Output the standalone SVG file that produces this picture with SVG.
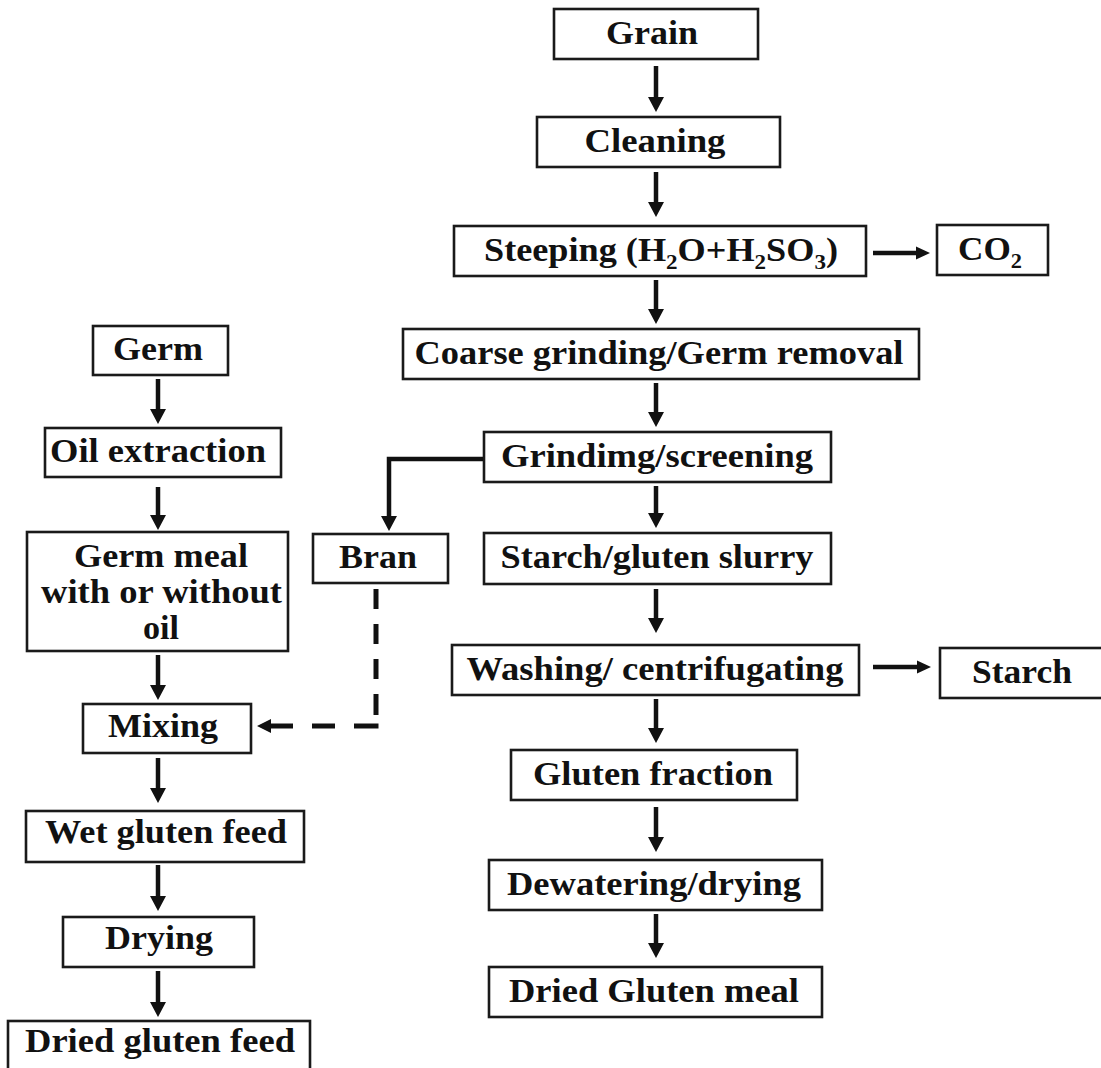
<svg xmlns="http://www.w3.org/2000/svg" width="1101" height="1068" viewBox="0 0 1101 1068">
<style>
.box{fill:#fff;stroke:#1a1a1a;stroke-width:2.6}
.t{font-family:"Liberation Serif","Times New Roman",serif;font-weight:bold;font-size:33px;fill:#111;text-anchor:middle}
.sub{font-size:21px}
.ln{stroke:#111;stroke-width:4.5;fill:none}
.dl{stroke:#111;stroke-width:5;fill:none}
.hd{fill:#111}
</style>
<defs>
<polygon id="hdown" points="-8,-15 8,-15 0,0"/>
<polygon id="hright" points="-14,-6.5 -14,6.5 0,0"/>
<polygon id="hleft" points="14,-7 14,7 0,0"/>
</defs>
<rect width="1101" height="1068" fill="#fff"/>

<g id="connectors">
  <line class="ln" x1="656" y1="66" x2="656" y2="99"/><use href="#hdown" class="hd" x="656" y="112"/>
  <line class="ln" x1="656" y1="172" x2="656" y2="204"/><use href="#hdown" class="hd" x="656" y="217"/>
  <line class="ln" x1="656" y1="280" x2="656" y2="311"/><use href="#hdown" class="hd" x="656" y="324"/>
  <line class="ln" x1="656" y1="383" x2="656" y2="414"/><use href="#hdown" class="hd" x="656" y="427"/>
  <line class="ln" x1="656" y1="486" x2="656" y2="515"/><use href="#hdown" class="hd" x="656" y="528"/>
  <line class="ln" x1="656" y1="589" x2="656" y2="620"/><use href="#hdown" class="hd" x="656" y="633"/>
  <line class="ln" x1="656" y1="699" x2="656" y2="730"/><use href="#hdown" class="hd" x="656" y="743"/>
  <line class="ln" x1="656" y1="807" x2="656" y2="839"/><use href="#hdown" class="hd" x="656" y="852"/>
  <line class="ln" x1="656" y1="914" x2="656" y2="945"/><use href="#hdown" class="hd" x="656" y="958"/>
  <line class="ln" x1="873" y1="253" x2="918" y2="253"/><use href="#hright" class="hd" x="930" y="253"/>
  <line class="ln" x1="873" y1="667" x2="919" y2="667"/><use href="#hright" class="hd" x="931" y="667"/>
  <polyline class="ln" points="485,459 389,459 389,518"/><use href="#hdown" class="hd" x="389" y="531"/>
  <line class="ln" x1="158" y1="379" x2="158" y2="411"/><use href="#hdown" class="hd" x="158" y="424"/>
  <line class="ln" x1="158" y1="487" x2="158" y2="517"/><use href="#hdown" class="hd" x="158" y="530"/>
  <line class="ln" x1="158" y1="655" x2="158" y2="687"/><use href="#hdown" class="hd" x="158" y="700"/>
  <line class="ln" x1="158" y1="758" x2="158" y2="790"/><use href="#hdown" class="hd" x="158" y="803"/>
  <line class="ln" x1="158" y1="865" x2="158" y2="898"/><use href="#hdown" class="hd" x="158" y="911"/>
  <line class="ln" x1="158" y1="971" x2="158" y2="1004"/><use href="#hdown" class="hd" x="158" y="1017"/>
  <g class="dl">
    <line x1="376" y1="589" x2="376" y2="609"/>
    <line x1="376" y1="624" x2="376" y2="644"/>
    <line x1="376" y1="659" x2="376" y2="679"/>
    <line x1="376" y1="694" x2="376" y2="715"/>
    <line x1="354" y1="726" x2="378.5" y2="726"/>
    <line x1="312" y1="726" x2="335" y2="726"/>
    <line x1="268" y1="726" x2="293" y2="726"/>
  </g>
  <use href="#hleft" class="hd" x="257" y="726"/>
</g>

<g id="n-grain"><rect class="box" x="554" y="9" width="204" height="50"/><text class="t" x="652" y="44" textLength="92" lengthAdjust="spacingAndGlyphs">Grain</text></g>
<g id="n-cleaning"><rect class="box" x="537" y="117" width="243" height="50"/><text class="t" x="655" y="152" textLength="141" lengthAdjust="spacingAndGlyphs">Cleaning</text></g>
<g id="n-steeping"><rect class="box" x="454" y="226" width="412" height="50"/><text class="t" x="661" y="261" textLength="354" lengthAdjust="spacingAndGlyphs">Steeping (H<tspan class="sub" dy="8">2</tspan><tspan dy="-8">O+H</tspan><tspan class="sub" dy="8">2</tspan><tspan dy="-8">SO</tspan><tspan class="sub" dy="8">3</tspan><tspan dy="-8">)</tspan></text></g>
<g id="n-co2"><rect class="box" x="937" y="225" width="111" height="50"/><text class="t" x="990" y="260" textLength="64" lengthAdjust="spacingAndGlyphs">CO<tspan class="sub" dy="8">2</tspan></text></g>
<g id="n-coarse"><rect class="box" x="403" y="329" width="516" height="50"/><text class="t" x="659" y="364" textLength="489" lengthAdjust="spacingAndGlyphs">Coarse grinding/Germ removal</text></g>
<g id="n-grinding"><rect class="box" x="484" y="432" width="347" height="50"/><text class="t" x="657" y="467" textLength="312" lengthAdjust="spacingAndGlyphs">Grindimg/screening</text></g>
<g id="n-slurry"><rect class="box" x="484" y="533" width="347" height="51"/><text class="t" x="657" y="568" textLength="313" lengthAdjust="spacingAndGlyphs">Starch/gluten slurry</text></g>
<g id="n-washing"><rect class="box" x="452" y="645" width="407" height="50"/><text class="t" x="655" y="680" textLength="377" lengthAdjust="spacingAndGlyphs">Washing/ centrifugating</text></g>
<g id="n-starch"><rect class="box" x="940" y="648" width="170" height="50"/><text class="t" x="1022" y="683" textLength="100" lengthAdjust="spacingAndGlyphs">Starch</text></g>
<g id="n-gluten-fraction"><rect class="box" x="511" y="750" width="286" height="50"/><text class="t" x="653" y="785" textLength="240" lengthAdjust="spacingAndGlyphs">Gluten fraction</text></g>
<g id="n-dewatering"><rect class="box" x="489" y="860" width="333" height="50"/><text class="t" x="654" y="895" textLength="294" lengthAdjust="spacingAndGlyphs">Dewatering/drying</text></g>
<g id="n-dried-meal"><rect class="box" x="489" y="967" width="333" height="50"/><text class="t" x="654" y="1002" textLength="290" lengthAdjust="spacingAndGlyphs">Dried Gluten meal</text></g>

<g id="n-germ"><rect class="box" x="93" y="326" width="135" height="49"/><text class="t" x="158" y="360" textLength="90" lengthAdjust="spacingAndGlyphs">Germ</text></g>
<g id="n-oil"><rect class="box" x="45" y="428" width="236" height="49"/><text class="t" x="158" y="462" textLength="216" lengthAdjust="spacingAndGlyphs">Oil extraction</text></g>
<g id="n-germ-meal"><rect class="box" x="27" y="532" width="261" height="119"/>
  <text class="t" x="161" y="567" textLength="174" lengthAdjust="spacingAndGlyphs">Germ meal</text>
  <text class="t" x="161.5" y="603" textLength="241" lengthAdjust="spacingAndGlyphs">with or without</text>
  <text class="t" x="161" y="639" textLength="36" lengthAdjust="spacingAndGlyphs">oil</text></g>
<g id="n-bran"><rect class="box" x="313" y="534" width="135" height="49"/><text class="t" x="378" y="568" textLength="78" lengthAdjust="spacingAndGlyphs">Bran</text></g>
<g id="n-mixing"><rect class="box" x="83" y="704" width="168" height="49"/><text class="t" x="163" y="737" textLength="110" lengthAdjust="spacingAndGlyphs">Mixing</text></g>
<g id="n-wet"><rect class="box" x="26" y="811" width="278" height="51"/><text class="t" x="166" y="843" textLength="242" lengthAdjust="spacingAndGlyphs">Wet gluten feed</text></g>
<g id="n-drying"><rect class="box" x="63" y="917" width="191" height="50"/><text class="t" x="159" y="949" textLength="108" lengthAdjust="spacingAndGlyphs">Drying</text></g>
<g id="n-dried-feed"><rect class="box" x="8" y="1021" width="302" height="60"/><text class="t" x="160" y="1052" textLength="270" lengthAdjust="spacingAndGlyphs">Dried gluten feed</text></g>
</svg>
